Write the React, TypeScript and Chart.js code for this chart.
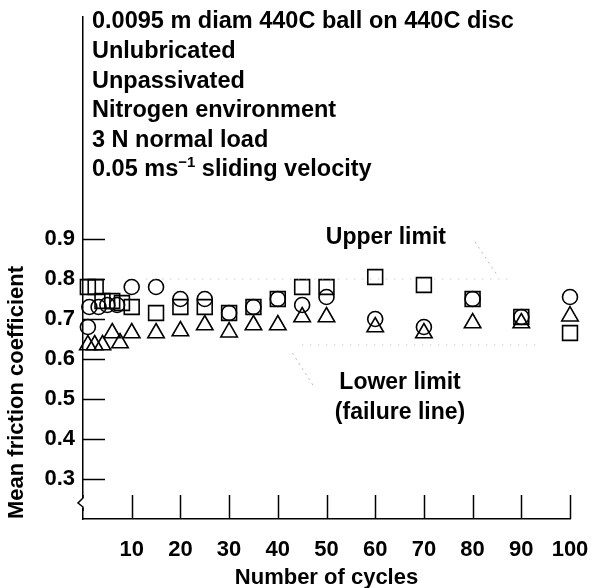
import React, { useEffect, useRef } from "react";
import { Chart, registerables } from "chart.js";

Chart.register(...registerables);

// ---- data ----
const circleCycles = [1, 1.3, 3.2, 5, 7, 10, 15, 20, 25, 30, 35, 40, 45, 50, 60, 70, 80, 90, 100];
const circleValues = [0.68, 0.73, 0.73, 0.735, 0.735, 0.78, 0.78, 0.75, 0.75, 0.715, 0.73, 0.75, 0.735, 0.755, 0.7, 0.68, 0.75, 0.705, 0.755];

const squareCycles = [1, 2.6, 4, 6, 8, 10, 15, 20, 25, 30, 35, 40, 45, 50, 60, 70, 80, 90, 100];
const squareValues = [0.78, 0.78, 0.745, 0.745, 0.74, 0.73, 0.715, 0.73, 0.73, 0.715, 0.73, 0.75, 0.78, 0.78, 0.805, 0.785, 0.75, 0.705, 0.665];

const triangleCycles = [1, 2.4, 4, 6, 7.6, 10, 15, 20, 25, 30, 35, 40, 45, 50, 60, 70, 80, 90, 100];
const triangleValues = [0.635, 0.635, 0.635, 0.665, 0.64, 0.665, 0.665, 0.67, 0.685, 0.667, 0.685, 0.685, 0.705, 0.705, 0.68, 0.665, 0.69, 0.69, 0.707];

const upperLimitCycles = [13, 88];
const upperLimitValue = 0.8;
const lowerLimitCycles = [45, 93];
const lowerLimitValue = 0.635;
const upperLeader = [{ x: 80.5, y: 0.893 }, { x: 85, y: 0.81 }];
const lowerLeader = [{ x: 43, y: 0.615 }, { x: 47.2, y: 0.535 }];

const xTicks = [10, 20, 30, 40, 50, 60, 70, 80, 90, 100];
const yTicks = [0.3, 0.4, 0.5, 0.6, 0.7, 0.8, 0.9];

const infoLines = [
  "0.0095 m diam 440C ball on 440C disc",
  "Unlubricated",
  "Unpassivated",
  "Nitrogen environment",
  "3 N normal load",
];
const velocityLine = ["0.05 ms", "\u22121", " sliding velocity"];

const xTitle = "Number of cycles";
const yTitle = "Mean friction coefficient";

const FONT = "'Liberation Sans', Arial, sans-serif";

const pts = (xs: number[], ys: number[]) => xs.map((x, i) => ({ x, y: ys[i] }));

const decorPlugin = {
  id: "decor",
  afterDraw(chart: any) {
    const { ctx, chartArea, scales } = chart;
    const xs = scales.x;
    const ys = scales.y;
    ctx.save();
    ctx.strokeStyle = "#000";
    ctx.lineWidth = 1.5;
    // inward y ticks
    yTicks.forEach((v) => {
      const py = Math.round(ys.getPixelForValue(v)) + 0.5;
      ctx.beginPath();
      ctx.moveTo(chartArea.left, py);
      ctx.lineTo(chartArea.left + 22, py);
      ctx.stroke();
    });
    // inward x ticks
    xTicks.forEach((v) => {
      const px = Math.round(xs.getPixelForValue(v)) + 0.5;
      ctx.beginPath();
      ctx.moveTo(px, chartArea.bottom);
      ctx.lineTo(px, chartArea.bottom - 24);
      ctx.stroke();
    });
    // axis break mark
    const by = ys.getPixelForValue(0.24);
    const bx = chartArea.left;
    ctx.fillStyle = "#fff";
    ctx.fillRect(bx - 1, by - 5, 3, 10);
    ctx.beginPath();
    ctx.moveTo(bx, by - 8);
    ctx.lineTo(bx, by - 5);
    ctx.lineTo(bx - 5, by);
    ctx.lineTo(bx, by + 4);
    ctx.lineTo(bx, by + 8);
    ctx.stroke();

    // text block
    ctx.fillStyle = "#000";
    ctx.textBaseline = "middle";
    ctx.textAlign = "left";
    const big = `bold 23.5px ${FONT}`;
    ctx.font = big;
    const tx = chartArea.left + 9;
    infoLines.forEach((t, i) => {
      ctx.fillText(t, tx, 22 + i * 29.6);
    });
    const vy = 22 + 5 * 29.6;
    let cx = tx;
    ctx.fillText(velocityLine[0], cx, vy);
    cx += ctx.measureText(velocityLine[0]).width;
    ctx.font = `bold 15px ${FONT}`;
    ctx.fillText(velocityLine[1], cx, vy - 7);
    cx += ctx.measureText(velocityLine[1]).width;
    ctx.font = big;
    ctx.fillText(velocityLine[2], cx, vy);

    // annotations
    ctx.textAlign = "center";
    ctx.font = `bold 23px ${FONT}`;
    ctx.fillText("Upper limit", xs.getPixelForValue(62.2), ys.getPixelForValue(0.9025));
    ctx.fillText("Lower limit", xs.getPixelForValue(65.1), ys.getPixelForValue(0.54));
    ctx.fillText("(failure line)", xs.getPixelForValue(65.1), ys.getPixelForValue(0.465));
    ctx.restore();
  },
};

export default function App() {
  const ref = useRef<HTMLCanvasElement | null>(null);
  useEffect(() => {
    if (!ref.current) return;
    const faint = {
      showLine: true,
      pointRadius: 0,
      borderColor: "#b8b8b8",
      borderWidth: 1,
      borderDash: [1, 7],
      fill: false,
    };
    const mark = {
      borderColor: "#000",
      backgroundColor: "rgba(0,0,0,0)",
      borderWidth: 1.6,
      clip: false as const,
    };
    const chart = new Chart(ref.current, {
      type: "scatter",
      data: {
        datasets: [
          { ...faint, data: upperLimitCycles.map((x) => ({ x, y: upperLimitValue })) },
          { ...faint, data: lowerLimitCycles.map((x) => ({ x, y: lowerLimitValue })) },
          { ...faint, borderDash: [2, 4], data: upperLeader },
          { ...faint, borderDash: [2, 4], data: lowerLeader },
          { ...mark, data: pts(squareCycles, squareValues), pointStyle: "rect", pointRadius: 10.5 },
          { ...mark, data: pts(circleCycles, circleValues), pointStyle: "circle", pointRadius: 7.5 },
          { ...mark, data: pts(triangleCycles, triangleValues), pointStyle: "triangle", pointRadius: 9.5 },
        ],
      },
      options: {
        animation: false,
        responsive: false,
        devicePixelRatio: 1,
        layout: { padding: { top: 17, right: 23, left: 0, bottom: 0 } },
        plugins: { legend: { display: false }, tooltip: { enabled: false } },
        scales: {
          x: {
            type: "linear",
            min: 0,
            max: 100,
            afterBuildTicks: (s: any) => {
              s.ticks = xTicks.map((v) => ({ value: v }));
            },
            afterFit: (s: any) => {
              s.height = 69;
              s.paddingRight = 0;
              s.paddingLeft = 0;
            },
            grid: { display: false, drawTicks: false },
            border: { display: true, color: "#000", width: 1.5 },
            ticks: {
              color: "#000",
              font: { family: FONT, size: 22, weight: "bold" },
              padding: 18,
              maxRotation: 0,
              autoSkip: false,
            },
            title: {
              display: true,
              text: xTitle,
              color: "#000",
              font: { family: FONT, size: 22, weight: "bold" },
              padding: { top: 0, bottom: -3 },
            },
          },
          y: {
            type: "linear",
            min: 0.2,
            max: 1.455,
            afterBuildTicks: (s: any) => {
              s.ticks = yTicks.map((v) => ({ value: v }));
            },
            afterFit: (s: any) => {
              s.width = 83;
              s.paddingTop = 0;
              s.paddingBottom = 0;
            },
            grid: { display: false, drawTicks: false },
            border: { display: true, color: "#000", width: 1.5 },
            ticks: {
              color: "#000",
              font: { family: FONT, size: 22, weight: "bold" },
              padding: 8,
              autoSkip: false,
              callback: (v: any) => Number(v).toFixed(1),
            },
            title: {
              display: true,
              text: yTitle,
              align: "start",
              color: "#000",
              font: { family: FONT, size: 22, weight: "bold" },
              padding: { top: 4, bottom: 0 },
            },
          },
        },
      },
      plugins: [decorPlugin],
    });
    return () => chart.destroy();
  }, []);
  return (
    <div style={{ position: "fixed", left: 0, top: 0, width: 593, height: 588, background: "#fff" }}>
      <canvas ref={ref} width={593} height={588} />
    </div>
  );
}
